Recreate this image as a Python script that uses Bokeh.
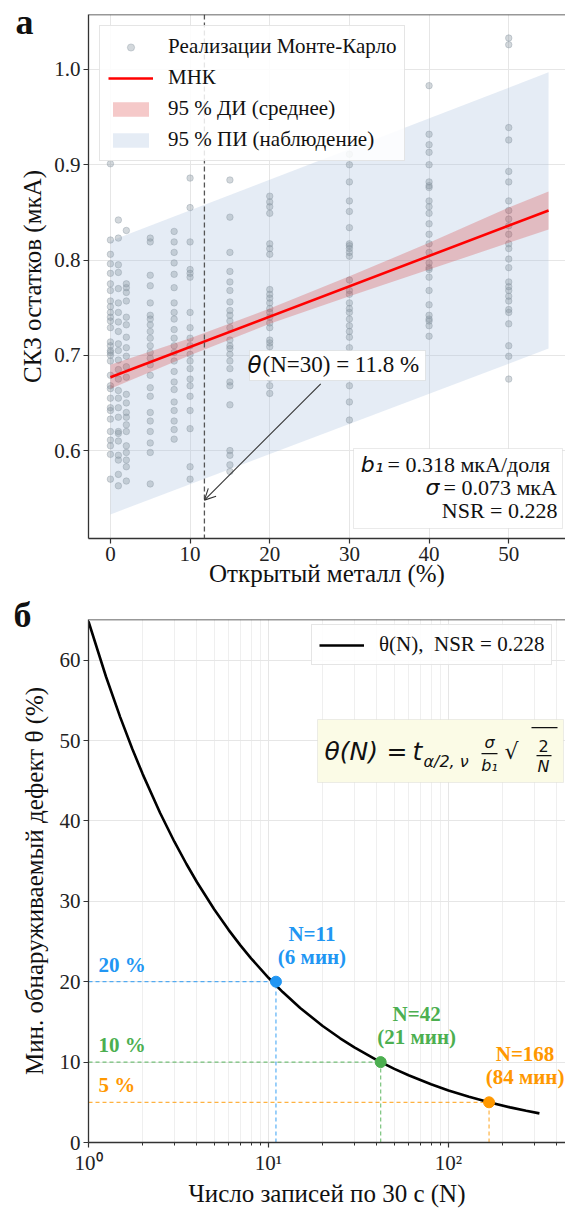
import math
from bokeh.plotting import figure
from bokeh.layouts import column
from bokeh.models import (ColumnDataSource, Label, LabelSet, Legend, LegendItem, Span, Arrow,
                          OpenHead, BoxAnnotation, FixedTicker, PrintfTickFormatter,
                          CustomJSTickFormatter, Range1d)
from bokeh.embed import file_html
from bokeh.resources import INLINE

SERIF = "Liberation Serif"
MATH = "DejaVu Sans"

# ---------------- data: panel a ----------------
mc_levels = [0, 1, 2, 5, 8, 10, 15, 20, 30, 40, 50]
mc_values = [
    [0.901, 0.821, 0.806, 0.796, 0.786, 0.775, 0.768, 0.757, 0.751, 0.745, 0.740, 0.736, 0.729, 0.714,
     0.710, 0.705, 0.703, 0.700, 0.694, 0.679, 0.668, 0.665, 0.655, 0.645, 0.642, 0.633, 0.620, 0.611,
     0.605, 0.596, 0.570],
    [0.842, 0.823, 0.795, 0.787, 0.770, 0.755, 0.745, 0.735, 0.725, 0.712, 0.705, 0.695, 0.685, 0.675,
     0.663, 0.655, 0.645, 0.635, 0.620, 0.618, 0.610, 0.595, 0.590, 0.575, 0.563],
    [0.831, 0.775, 0.771, 0.766, 0.757, 0.740, 0.732, 0.719, 0.708, 0.699, 0.688, 0.677, 0.659, 0.650,
     0.640, 0.635, 0.627, 0.620, 0.605, 0.598, 0.590, 0.583, 0.568],
    [0.823, 0.819, 0.784, 0.773, 0.755, 0.742, 0.738, 0.732, 0.725, 0.718, 0.710, 0.703, 0.697, 0.690,
     0.679, 0.666, 0.657, 0.640, 0.631, 0.620, 0.608, 0.598, 0.565],
    [0.830, 0.819, 0.808, 0.797, 0.785, 0.771, 0.755, 0.745, 0.738, 0.727, 0.718, 0.710, 0.703, 0.694,
     0.683, 0.672, 0.664, 0.651, 0.642, 0.631, 0.622, 0.612],
    [0.886, 0.855, 0.819, 0.790, 0.786, 0.782, 0.745, 0.729, 0.718, 0.710, 0.701, 0.694, 0.686, 0.675,
     0.668, 0.657, 0.642, 0.623, 0.583, 0.570],
    [0.884, 0.845, 0.808, 0.788, 0.777, 0.768, 0.756, 0.747, 0.742, 0.736, 0.729, 0.716, 0.710, 0.707,
     0.701, 0.694, 0.686, 0.672, 0.668, 0.648, 0.600, 0.595, 0.585, 0.578],
    [0.867, 0.861, 0.856, 0.849, 0.817, 0.812, 0.806, 0.769, 0.764, 0.760, 0.755, 0.749, 0.745, 0.740,
     0.734, 0.729, 0.716, 0.713, 0.709, 0.701, 0.690, 0.676, 0.668, 0.660],
    [0.911, 0.900, 0.882, 0.862, 0.851, 0.834, 0.817, 0.815, 0.812, 0.808, 0.804, 0.779, 0.768, 0.764,
     0.755, 0.749, 0.745, 0.738, 0.731, 0.725, 0.719, 0.708, 0.686, 0.668, 0.651, 0.632],
    [0.983, 0.932, 0.921, 0.913, 0.900, 0.882, 0.878, 0.876, 0.862, 0.856, 0.849, 0.838, 0.827, 0.817,
     0.808, 0.797, 0.792, 0.790, 0.782, 0.768, 0.753, 0.742, 0.738, 0.736, 0.731, 0.720],
    [1.033, 1.026, 0.939, 0.926, 0.893, 0.882, 0.862, 0.852, 0.843, 0.836, 0.827, 0.817, 0.812, 0.801,
     0.792, 0.777, 0.772, 0.768, 0.762, 0.757, 0.748, 0.745, 0.733, 0.710, 0.699, 0.675],
]
fit_x = [0, 55]
fit_y = [0.677, 0.852]
ci_x = [0, 10, 20, 30, 40, 50, 55]
ci_lo = [0.665, 0.700, 0.733, 0.762, 0.790, 0.818, 0.832]
ci_hi = [0.690, 0.718, 0.749, 0.783, 0.818, 0.855, 0.872]
pi_x = [0, 55]
pi_lo = [0.533, 0.707]
pi_hi = [0.820, 0.997]
theta_at_30 = 11.8
b1_value = 0.318
sigma_value = 0.073
nsr_value = 0.228
xa_ticks = [0, 10, 20, 30, 40, 50]
ya_ticks = [0.6, 0.7, 0.8, 0.9, 1.0]

# ---------------- data: panel b ----------------
curve_N = [1, 1.25, 1.5, 1.75, 2, 2.5, 3, 3.5, 4, 5, 6, 7, 8, 10, 12, 15, 20, 25, 30, 40, 50, 60,
           80, 100, 130, 170, 220, 270, 320]
curve_theta = [64.8, 57.96, 52.91, 48.98, 45.82, 40.98, 37.41, 34.64, 32.40, 28.98, 26.45, 24.49,
               22.91, 20.49, 18.71, 16.73, 14.49, 12.96, 11.83, 10.25, 9.16, 8.37, 7.24, 6.48, 5.68,
               4.97, 4.37, 3.94, 3.62]
thresholds = [20, 10, 5]
n_required = [11, 42, 168]
minutes = [6, 21, 84]
thr_colors = ["#2196F3", "#4CAF50", "#FF9800"]
xb_ticks = [1, 10, 100]
xb_minor = [2, 3, 4, 5, 6, 7, 8, 9, 20, 30, 40, 50, 60, 70, 80, 90, 200, 300, 400]
yb_ticks = [0, 10, 20, 30, 40, 50, 60]

W = 565
AX_COL = "#333333"
GRID_COL = "#e6e6e6"


def style_axes(p):
    for ax in p.axis:
        ax.axis_line_color = AX_COL
        ax.axis_line_width = 1.3
        ax.major_tick_line_color = AX_COL
        ax.major_tick_line_width = 1.2
        ax.major_tick_out = 5
        ax.major_tick_in = 0
        ax.minor_tick_line_color = None
        ax.major_label_text_font = SERIF
        ax.major_label_text_font_size = "21px"
        ax.major_label_text_color = "#222222"
        ax.major_label_standoff = 3
        ax.axis_label_text_font = SERIF
        ax.axis_label_text_font_size = "25px"
        ax.axis_label_text_font_style = "normal"
        ax.axis_label_text_color = "#111111"
    p.outline_line_color = None
    p.xgrid.grid_line_color = GRID_COL
    p.ygrid.grid_line_color = GRID_COL


def style_letter(p, offset, standoff):
    t = p.title
    t.text_font = SERIF
    t.text_font_size = "36px"
    t.text_font_style = "bold"
    t.text_color = "#111111"
    t.align = "left"
    t.vertical_align = "bottom"
    t.offset = offset
    t.standoff = standoff


def add_label(p, text, x, y, size, font=SERIF, style="normal", align="left", baseline="middle",
              color="#111111", angle=0.0):
    p.add_layout(Label(x=x, y=y, x_units="screen", y_units="screen", text=text, text_font=font,
                       text_font_size=f"{size}px", text_font_style=style, text_align=align,
                       text_baseline=baseline, text_color=color, angle=angle))


def add_box(p, left, right, top, bottom, fill, line, alpha=1.0, lw=1.0):
    p.add_layout(BoxAnnotation(left=left, right=right, top=top, bottom=bottom,
                               left_units="screen", right_units="screen", top_units="screen",
                               bottom_units="screen", fill_color=fill, fill_alpha=alpha,
                               line_color=line, line_width=lw))


# =============== panel a ===============
A_LEFT, A_TOP, A_BOT, A_H = 86, 14, 538, 593
PXU = 8.0
pa = figure(width=W, height=A_H, output_backend="svg", toolbar_location=None, title="а",
            x_range=Range1d(-2.75, -2.75 + (W - A_LEFT) / PXU),
            y_range=Range1d(0.5077, 1.0577),
            min_border_left=A_LEFT, min_border_right=0, min_border_top=A_TOP,
            min_border_bottom=A_H - A_BOT)
style_axes(pa)
style_letter(pa, -73, -54)
pa.xaxis.ticker = FixedTicker(ticks=xa_ticks)
pa.yaxis.ticker = FixedTicker(ticks=ya_ticks)
pa.yaxis.formatter = PrintfTickFormatter(format="%.1f")
pa.xaxis.axis_label = "Открытый металл (%)"
pa.xaxis.axis_label_standoff = -4
pa.yaxis.axis_label = "СКЗ остатков (мкА)"
pa.yaxis.axis_label_standoff = 5

r_pi = pa.varea(x=pi_x, y1=pi_lo, y2=pi_hi, fill_color="#a9bfdd", fill_alpha=0.30)
sx, sy = [], []
for lvl, vals in zip(mc_levels, mc_values):
    sx += [lvl] * len(vals)
    sy += vals
r_mc = pa.scatter(sx, sy, size=6.5, fill_color="#86929e", line_color="#86929e",
                  fill_alpha=0.36, line_alpha=0.36)
r_ci = pa.varea(x=ci_x, y1=ci_lo, y2=ci_hi, fill_color="#d62728", fill_alpha=0.25)
r_fit = pa.line(fit_x, fit_y, line_color="#ff0000", line_width=2.6)

pa.add_layout(Span(location=theta_at_30, dimension="height", line_color="#555555",
                   line_dash="5 3", line_width=1.3))
pa.add_layout(Span(location=pa.y_range.end, dimension="width", line_color=AX_COL, line_width=1.5))

leg_a = Legend(items=[LegendItem(label="Реализации Монте-Карло", renderers=[r_mc]),
                      LegendItem(label="МНК", renderers=[r_fit]),
                      LegendItem(label="95 % ДИ (среднее)", renderers=[r_ci]),
                      LegendItem(label="95 % ПИ (наблюдение)", renderers=[r_pi])],
               location="top_left", margin=11, padding=8, spacing=6,
               label_text_font=SERIF, label_text_font_size="21px", label_text_color="#111111",
               glyph_width=45, glyph_height=18, label_standoff=15,
               border_line_color="#cccccc", border_line_width=1,
               background_fill_color="white", background_fill_alpha=0.85)
pa.add_layout(leg_a)

pa.add_layout(Arrow(end=OpenHead(size=11, line_color="#333333", line_width=1.1),
                    x_start=26.4, y_start=0.670, x_end=theta_at_30, y_end=0.548,
                    line_color="#333333", line_width=1.1))


def ax_(px):
    return px - A_LEFT


def ay_(py):
    return A_BOT - py


add_box(pa, ax_(247), ax_(423), ay_(350), ay_(380), "white", "#bbbbbb")
add_label(pa, "θ", ax_(259), ay_(364), 23, font=MATH, style="italic", align="right")
add_label(pa, f"(N=30) = {theta_at_30:.1f} %", ax_(260), ay_(364), 23)

add_box(pa, ax_(351), ax_(560), ay_(448), ay_(528), "white", "#bbbbbb")
add_label(pa, "b₁", ax_(381), ay_(464), 22, font=MATH, style="italic", align="right")
add_label(pa, f"= {b1_value:.3f} мкА/доля", ax_(385), ay_(464), 22)
add_label(pa, "σ", ax_(437), ay_(487), 22, font=MATH, style="italic", align="right")
add_label(pa, f"= {sigma_value:.3f} мкА", ax_(441), ay_(487), 22)
add_label(pa, f"NSR = {nsr_value:.3f}", ax_(555), ay_(510), 22, align="right")

# =============== panel b ===============
B_OFF = A_H
B_LEFT, B_TOP, B_BOT = 88, 619 - B_OFF, 1144 - B_OFF
B_H = 1209 - B_OFF
PXD = 180.0
pb = figure(width=W, height=B_H, output_backend="svg", toolbar_location=None, x_axis_type="log",
            title="б",
            x_range=Range1d(1, 10 ** ((W - B_LEFT) / PXD)), y_range=Range1d(0, 65.05),
            min_border_left=B_LEFT, min_border_right=0, min_border_top=B_TOP,
            min_border_bottom=B_H - B_BOT)
style_axes(pb)
style_letter(pb, -75, -30)
pb.xaxis.ticker = FixedTicker(ticks=xb_ticks, minor_ticks=xb_minor)
pb.yaxis.ticker = FixedTicker(ticks=yb_ticks)
pb.xaxis.minor_tick_line_color = AX_COL
pb.xaxis.minor_tick_out = 3
pb.xaxis.minor_tick_in = 0
pb.xgrid.minor_grid_line_color = "#efefef"
pb.xaxis.formatter = CustomJSTickFormatter(code="""
const e = Math.round(Math.log10(tick));
const sup = {"0":"\u2070","1":"\u00b9","2":"\u00b2","3":"\u00b3","4":"\u2074","-":"\u207b"};
return "10" + String(e).split("").map(c => sup[c]).join("");
""")
pb.xaxis.axis_label = "Число записей по 30 с (N)"
pb.xaxis.axis_label_standoff = 2
pb.yaxis.axis_label = "Мин. обнаруживаемый дефект θ (%)"
pb.yaxis.axis_label_standoff = 9
pb.add_layout(Span(location=pb.y_range.end, dimension="width", line_color=AX_COL, line_width=1.5))

src = ColumnDataSource(dict(
    n=n_required, t=thresholds, c=thr_colors, x0=[xb_ticks[0]] * len(n_required),
    y0=[0] * len(n_required),
    lab1=[f"N={n}" for n in n_required],
    lab2=[f"({m} мин)" for m in minutes],
    labp=[f"{t} %" for t in thresholds]))
pb.segment(x0="x0", y0="t", x1="n", y1="t", source=src, line_color="c", line_dash="4 3",
           line_width=1.2, line_alpha=0.75)
pb.segment(x0="n", y0="y0", x1="n", y1="t", source=src, line_color="c", line_dash="4 3",
           line_width=1.2, line_alpha=0.75)
r_curve = pb.line(curve_N, curve_theta, line_color="black", line_width=2.6)
pb.scatter(x="n", y="t", source=src, size=11, fill_color="c", line_color="c")

for fld, dy in (("lab1", 48), ("lab2", 25)):
    pb.add_layout(LabelSet(x="n", y="t", text=fld, source=src, x_offset=36, y_offset=dy,
                           text_align="center", text_baseline="middle", text_color="c",
                           text_font=SERIF, text_font_size="21px", text_font_style="bold"))
pb.add_layout(LabelSet(x="x0", y="t", text="labp", source=src, x_offset=10, y_offset=17,
                       text_align="left", text_baseline="middle", text_color="c",
                       text_font=SERIF, text_font_size="21px", text_font_style="bold"))

leg_b = Legend(items=[LegendItem(label=f"θ(N),  NSR = {nsr_value:.3f}", renderers=[r_curve])],
               location=(223, 477), padding=7, margin=0,
               label_text_font=SERIF, label_text_font_size="21px", label_text_color="#111111",
               glyph_width=45, glyph_height=18, label_standoff=15,
               border_line_color="#cccccc", border_line_width=1,
               background_fill_color="white", background_fill_alpha=0.85)
pb.add_layout(leg_b)


def bx_(px):
    return px - B_LEFT


def by_(py):
    return (B_BOT + B_OFF) - py


# formula box
add_box(pb, bx_(317), bx_(563), by_(721), by_(784), "#fbfbe6", "#c8c8c8")
FY = 753
add_label(pb, "θ(N)", bx_(324), by_(FY), 25, font=MATH, style="italic")
add_label(pb, "=", bx_(386), by_(FY), 25, font=MATH)
add_label(pb, "t", bx_(412), by_(FY), 25, font=MATH, style="italic")
add_label(pb, "α/2, ν", bx_(423), by_(763), 16, font=MATH, style="italic")
add_label(pb, "σ", bx_(489), by_(744), 16, font=MATH, style="italic", align="center")
add_box(pb, bx_(481), bx_(497), by_(754.5), by_(755.7), "#111111", None)
add_label(pb, "b₁", bx_(489), by_(767), 16, font=MATH, style="italic", align="center")
add_label(pb, "√", bx_(504), by_(753), 22, font=MATH)
add_box(pb, bx_(531), bx_(557), by_(728.5), by_(729.8), "#111111", None)
add_label(pb, "2", bx_(543), by_(747), 16, font=MATH, align="center")
add_box(pb, bx_(536), bx_(551), by_(756.5), by_(757.7), "#111111", None)
add_label(pb, "N", bx_(543), by_(768), 16, font=MATH, style="italic", align="center")

layout = column(pa, pb, spacing=0)
open("out.html", "w").write(file_html(layout, INLINE))
